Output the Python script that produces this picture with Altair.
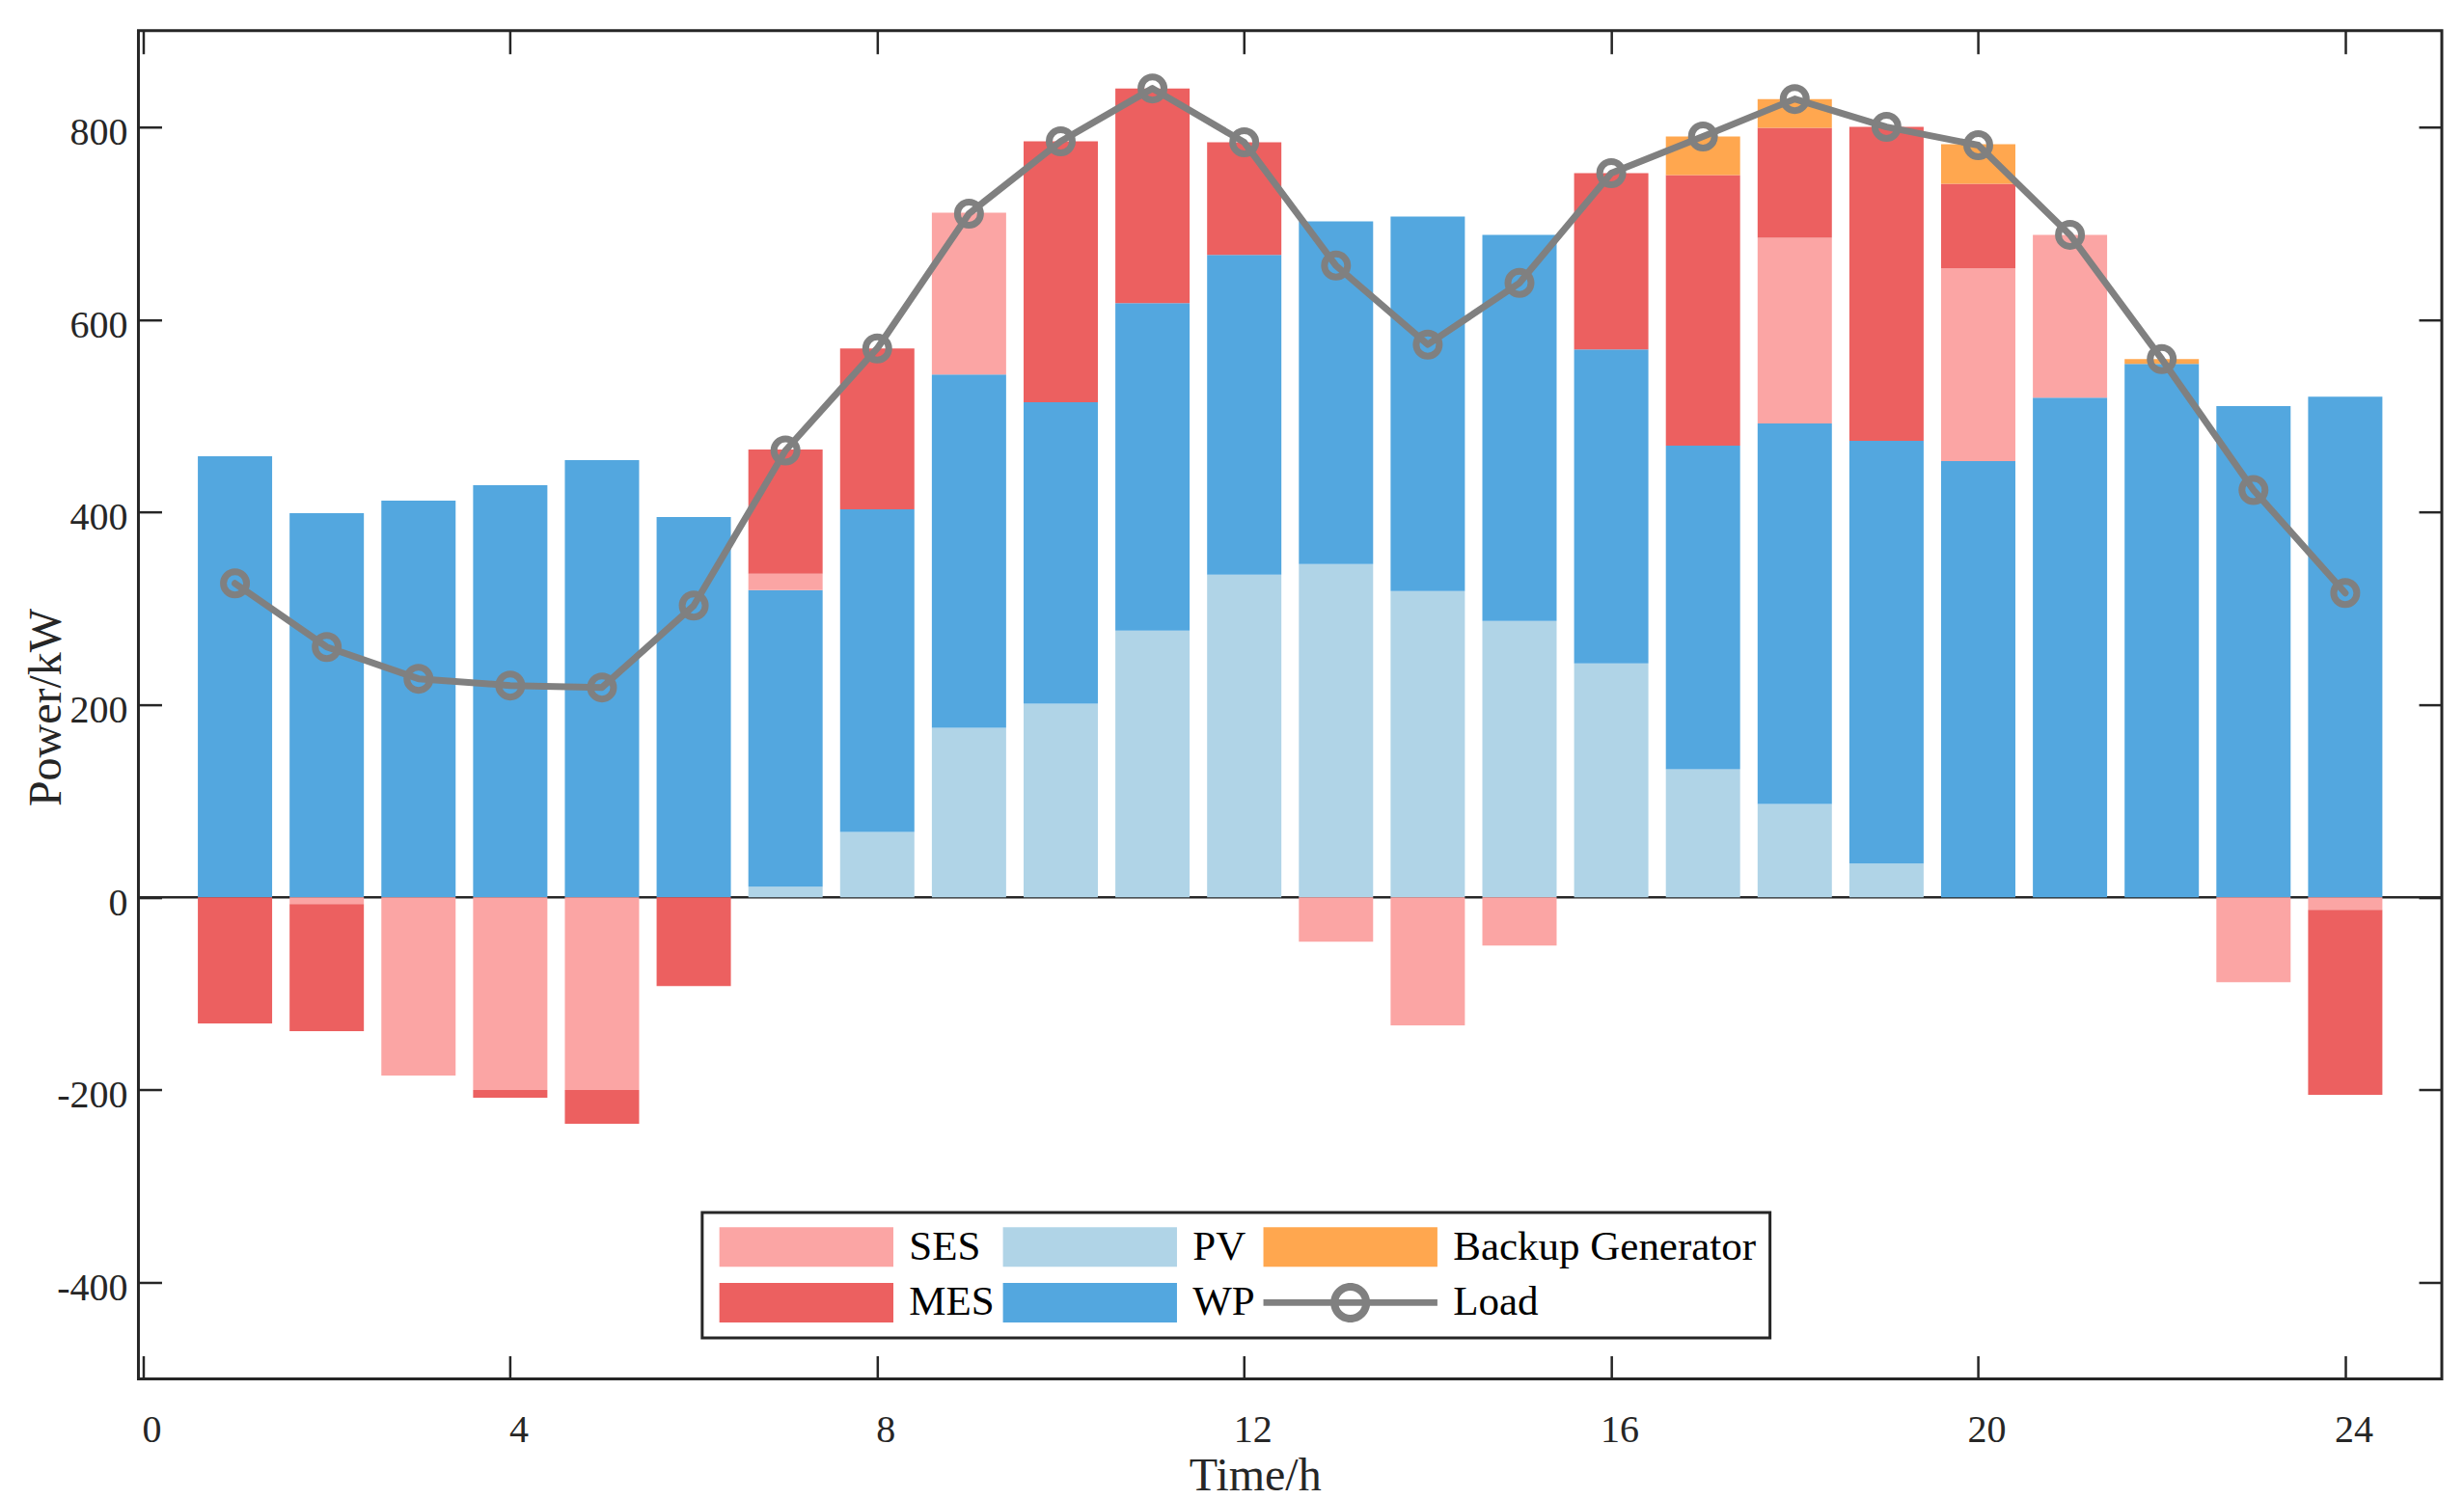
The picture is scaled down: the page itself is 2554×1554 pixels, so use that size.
import altair as alt
import pandas as pd

# hourly dispatch (kW)
hours = list(range(1, 25))
pv = [0, 0, 0, 0, 0, 0, 11, 68, 176, 201, 277, 335, 346, 318, 287, 243, 133, 97, 35, 0, 0, 0, 0, 0]
wp = [458, 399, 412, 428, 454, 395, 308, 335, 367, 313, 340, 332, 356, 389, 401, 326, 336, 395, 439, 453, 519, 554, 510, 520]
ses = [0, -7, -185, -200, -200, 0, 17, 0, 168, 0, 0, 0, -46, -133, -50, 0, 0, 193, 0, 200, 169, 0, -88, -13]
mes = [-131, -132, 0, -8, -35, -92, 129, 167, 0, 271, 223, 117, 0, 0, 0, 183, 281, 114, 326, 88, 0, 0, 0, -192]
backup = [0, 0, 0, 0, 0, 0, 0, 0, 0, 0, 0, 0, 0, 0, 0, 0, 40, 30, 0, 41, 0, 5, 0, 0]
load = [326, 260, 227, 220, 218, 303, 464, 570, 710, 785, 840, 784, 656, 574, 638, 752, 790, 829, 800, 781, 688, 559, 423, 316]

stack_order = ['PV', 'WP', 'SES', 'MES', 'Backup Generator']
# legend fills column by column: (SES, MES), (PV, WP), (Backup Generator, Load)
legend_order = ['SES', 'MES', 'PV', 'WP', 'Backup Generator', 'Load']
legend_colors = ['#fba5a4', '#ec6060', '#b0d4e7', '#53a7df', '#ffa74f', '#808080']
x_ticks = [0, 4, 8, 12, 16, 20, 24]
y_ticks = [-400, -200, 0, 200, 400, 600, 800]

series = {'PV': pv, 'WP': wp, 'SES': ses, 'MES': mes, 'Backup Generator': backup}
rows = []
for name in stack_order:
    for h, v in zip(hours, series[name]):
        if v != 0:
            rows.append({'hour': h, 'series': name, 'value': v, 'rank': stack_order.index(name)})
bars_df = pd.DataFrame(rows)
load_df = pd.DataFrame({'hour': hours, 'load': load})
zero_df = pd.DataFrame({'y': [0]})

FONT = 'Liberation Serif'
INK = '#262626'
xscale = alt.Scale(domain=[0, 25], nice=False, zero=False)
yscale = alt.Scale(domain=[-500, 900], nice=False)
inward = alt.ExprRef(expr='-24')

# legend symbols: wide rectangles, and a line-with-ring for Load
RECT = 'M-4.4,-1L4.4,-1L4.4,1L-4.4,1Z'
LOAD_SYM = ('M-4.4,-0.17L4.4,-0.17L4.4,0.17L-4.4,0.17Z '
            'M1,0A1,1,0,1,1,-1,0A1,1,0,1,1,1,0Z '
            'M0.61,0A0.61,0.61,0,1,0,-0.61,0A0.61,0.61,0,1,0,0.61,0Z')
sym_expr = "datum.value === 'Load' ? '%s' : '%s'" % (LOAD_SYM, RECT)

bars = alt.Chart(bars_df).mark_bar(width=77).encode(
    x=alt.X('hour:Q', scale=xscale, axis=alt.Axis(
        values=x_ticks, title='Time/h', tickSize=inward, labelPadding=56.8, labelOffset=8.5,
        labelFlush=False, labelOverlap=False,
        titleX=1157.5, titleY=115, titleBaseline='alphabetic', titleAlign='center')),
    y=alt.Y('value:Q', stack='zero', scale=yscale, axis=alt.Axis(
        values=y_ticks, title='Power/kW', tickSize=inward, labelPadding=35.5, labelOffset=6,
        labelExpr="replace(datum.label, '\u2212', '-')",
        titleX=-80.5, titleY=701.4, titleAngle=270, titleBaseline='alphabetic', titleAlign='center')),
    color=alt.Color('series:N', scale=alt.Scale(domain=legend_order, range=legend_colors), legend=alt.Legend(
        title=None, orient='none', legendX=584.5, legendY=1225.4, columns=3,
        symbolType=alt.ExprRef(expr=sym_expr), symbolSize=1681, symbolStrokeWidth=0,
        symbolOffset=72.5, labelOffset=85, labelFont=FONT, labelFontSize=43, labelColor='#000000',
        labelLimit=0, rowPadding=14, columnPadding=5, padding=14,
        strokeColor=INK, fillColor='#ffffff')),
    order=alt.Order('rank:Q')
)

zero_line = alt.Chart(zero_df).mark_rule(color=INK, strokeWidth=2.5).encode(
    y=alt.Y('y:Q', scale=yscale, axis=None)
)

load_line = alt.Chart(load_df).mark_line(color='#808080', strokeWidth=7, strokeJoin='round', strokeCap='round').encode(
    x=alt.X('hour:Q', scale=xscale, axis=alt.Axis(orient='top', values=x_ticks, labels=False, title=None, tickSize=inward)),
    y=alt.Y('load:Q', scale=yscale, axis=alt.Axis(orient='right', values=y_ticks, labels=False, title=None, tickSize=inward))
)

load_pts = alt.Chart(load_df).mark_point(shape='circle', filled=False, size=576, strokeWidth=7, color='#808080', opacity=1).encode(
    x=alt.X('hour:Q', scale=xscale, axis=None),
    y=alt.Y('load:Q', scale=yscale, axis=None)
)

chart = alt.layer(zero_line, bars, load_line, load_pts).resolve_axis(
    x='independent', y='independent'
).properties(
    width=2388, height=1398,
    autosize=alt.AutoSizeParams(type='none'),
    padding={'left': 135.5, 'top': 23.6, 'right': 15, 'bottom': 124}
).configure_view(
    stroke=INK, strokeWidth=3
).configure_axis(
    grid=False, domain=False,
    labelFont=FONT, labelFontSize=40, labelColor=INK,
    tickColor=INK, tickWidth=2.5,
    titleFont=FONT, titleFontSize=48, titleFontWeight='normal', titleColor=INK
).configure_legend(
    strokeWidth=3
)

chart.save('out.html', embed_options={'renderer': 'svg', 'actions': False})
